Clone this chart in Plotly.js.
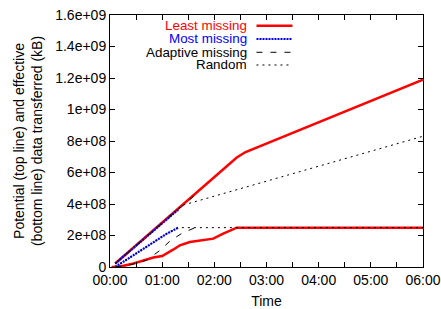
<!DOCTYPE html>
<html><head><meta charset="utf-8">
<script src="https://cdn.plot.ly/plotly-3.0.1.min.js"></script>
<style>html,body{margin:0;padding:0;background:#fff}#chart{width:441px;height:309px}</style>
</head><body><div id="chart"></div>
<script>
// Series names
const seriesNames = ["Least missing", "Most missing", "Adaptive missing", "Random"];

// Time in hours; values in kB. Each series has a "top" (potential) and "bottom" (effective) line.
const leastTopT = [0.1, 1.34, 2.43, 2.6, 6.0];
const leastTopV = [2.2e7, 3.8e8, 6.95e8, 7.3e8, 1.19e9];
const leastBotT = [0.03, 0.2, 0.45, 0.7, 0.83, 1.0, 1.09, 1.21, 1.34, 1.53, 1.98, 2.17, 2.43, 6.0];
const leastBotV = [0, 3e6, 2.2e7, 4.8e7, 6e7, 7e7, 8.5e7, 1.1e8, 1.38e8, 1.59e8, 1.8e8, 2.12e8, 2.5e8, 2.5e8];

const mostTopT = [0.1, 1.31];
const mostTopV = [2.2e7, 3.65e8];
const mostBotT = [0.1, 0.45, 0.83, 1.09, 1.31];
const mostBotV = [0, 7.4e7, 1.59e8, 2.12e8, 2.5e8];

const adaptTopT = [0.1, 1.66];
const adaptTopV = [2.2e7, 4.65e8];
const adaptBotT = [0.1, 0.4, 0.7, 0.96, 1.15, 1.37, 1.63];
const adaptBotV = [0, 1.5e7, 4.3e7, 1.06e8, 1.65e8, 2.12e8, 2.5e8];

const randTopT = [0.1, 1.37, 6.0];
const randTopV = [2.2e7, 3.9e8, 8.3e8];
const randBotT = [0.1, 0.45, 0.83, 1.09, 1.31, 6.0];
const randBotV = [0, 7.4e7, 1.59e8, 2.12e8, 2.5e8, 2.5e8];

// Tick labels
const xTickVals = [0,0.5,1,1.5,2,2.5,3,3.5,4,4.5,5,5.5,6];
const xTickText = ["00:00","","01:00","","02:00","","03:00","","04:00","","05:00","","06:00"];
const yTickVals = [0,2e8,4e8,6e8,8e8,1e9,1.2e9,1.4e9,1.6e9];
const yTickText = ["0","2e+08","4e+08","6e+08","8e+08","1e+09","1.2e+09","1.4e+09","1.6e+09"];

const styles = [
  {color:"#ff0000", width:2.5, dash:"solid"},
  {color:"#0000ff", width:2.2, dash:"2px,1px"},
  {color:"#000000", width:1, dash:"6px,8px"},
  {color:"#000000", width:1, dash:"2px,4px"}
];

function join(t1,v1,t2,v2){ return {x:t1.concat([null],t2), y:v1.concat([null],v2)}; }
const data = [
  join(leastTopT,leastTopV,leastBotT,leastBotV),
  join(mostTopT,mostTopV,mostBotT,mostBotV),
  join(adaptTopT,adaptTopV,adaptBotT,adaptBotV),
  join(randTopT,randTopV,randBotT,randBotV)
];

const traces = data.map((d,i)=>({
  type:"scatter", mode:"lines", x:d.x, y:d.y, name:seriesNames[i],
  connectgaps:false, line:styles[i], showlegend:false, hoverinfo:"skip"
}));

const fam = "Liberation Sans, Arial, sans-serif";
const font = {family:fam, size:14, color:"#000"};
const legendY = [0.9575, 0.9048, 0.852, 0.8016];
const annotations = seriesNames.map((n,i)=>({
  xref:"paper", yref:"paper", x:0.4405, y:legendY[i], xanchor:"right", yanchor:"middle",
  text:n, showarrow:false, borderpad:0,
  font:{family:fam, size:13.4, color: i===0?"#ff0000":(i===1?"#0000ff":"#000")}
}));
const shapes = seriesNames.map((n,i)=>({
  type:"line", xref:"paper", yref:"paper", x0:0.468, x1:0.583, y0:legendY[i], y1:legendY[i],
  line:{color:styles[i].color, width:styles[i].width, dash:styles[i].dash}
}));

const layout = {
  width:441, height:309,
  margin:{l:110, r:18, t:15, b:42},
  paper_bgcolor:"#fff", plot_bgcolor:"#fff",
  font:font,
  showlegend:false,
  xaxis:{range:[0,6], tickvals:xTickVals, ticktext:xTickText, ticks:"inside", ticklen:5,
    tickcolor:"#000", showgrid:false, zeroline:false, showline:true, linecolor:"#000", linewidth:1,
    mirror:"ticks", title:{text:"Time", font:font, standoff:10}, tickfont:font},
  yaxis:{range:[0,1.6e9], tickvals:yTickVals, ticktext:yTickText, ticks:"inside", ticklen:5,
    tickcolor:"#000", showgrid:false, zeroline:false, showline:true, linecolor:"#000", linewidth:1,
    mirror:"ticks", title:{text:"Potential (top line) and effective<br>(bottom line) data transferred (kB)", font:font, standoff:9},
    tickfont:font},
  annotations:annotations,
  shapes:shapes
};
Plotly.newPlot("chart", traces, layout, {staticPlot:true, displayModeBar:false});
</script></body></html>
